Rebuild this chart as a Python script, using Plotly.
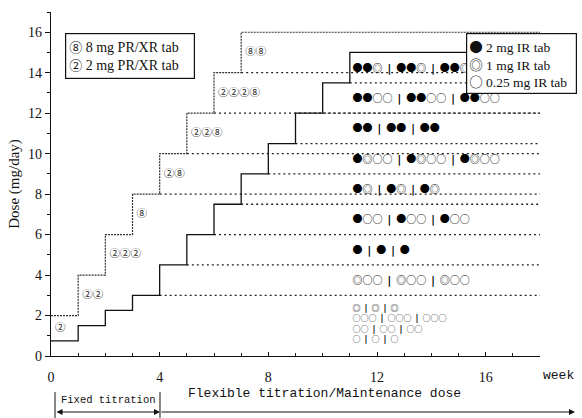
import plotly.graph_objects as go

# ---- data -------------------------------------------------------------
pr_weeks = [0, 1, 2, 3, 4, 5, 6, 7]
pr_xr_dose = [2, 4, 6, 8, 10, 12, 14, 16]                 # mg/day, PR/XR tablets
pr_xr_tabs = ["②", "②②", "②②②", "⑧", "②⑧", "②②⑧", "②②②⑧", "⑧⑧"]

ir_weeks = [0, 1, 2, 3, 4, 5, 6, 7, 8, 9, 10, 11]
ir_dose = [0.75, 1.5, 2.25, 3, 4.5, 6, 7.5, 9, 10.5, 12, 13.5, 15]   # mg/day, IR tablets
ir_tabs = [
    "○ | ○ | ○",
    "○○ | ○○ | ○○",
    "○○○ | ○○○ | ○○○",
    "◎ | ◎ | ◎",
    "◎○○ | ◎○○ | ◎○○",
    "● | ● | ●",
    "●○○ | ●○○ | ●○○",
    "●◎ | ●◎ | ●◎",
    "●◎○○ | ●◎○○ | ●◎○○",
    "●● | ●● | ●●",
    "●●○○ | ●●○○ | ●●○○",
    "●●◎ | ●●◎ | ●●◎",
]

fixed_titration_weeks = 4
end_week = 18
first_maintained = 3          # first step whose dose line carries on to the end

# ---- figure -----------------------------------------------------------
fig = go.Figure()

# dose levels that continue through flexible titration / maintenance
ext_x, ext_y = [], []
for i in range(first_maintained, len(pr_xr_dose) - 1):
    ext_x += [pr_weeks[i] + 1, end_week, None]
    ext_y += [pr_xr_dose[i], pr_xr_dose[i], None]
for i in range(first_maintained, len(ir_dose) - 1):
    ext_x += [ir_weeks[i] + 1, end_week, None]
    ext_y += [ir_dose[i], ir_dose[i], None]
fig.add_trace(go.Scatter(x=ext_x, y=ext_y, mode="lines", hoverinfo="skip",
                         line=dict(color="#222", width=1.3, dash="2px,3px")))

# PR/XR titration steps
fig.add_trace(go.Scatter(x=pr_weeks + [end_week], y=pr_xr_dose + [pr_xr_dose[-1]],
                         mode="lines", line_shape="hv",
                         line=dict(color="#333", width=1.2, dash="2px,1px")))

# IR titration steps
fig.add_trace(go.Scatter(x=ir_weeks + [end_week], y=ir_dose + [ir_dose[-1]],
                         mode="lines", line_shape="hv",
                         line=dict(color="#111", width=1.3)))

cjk = "Noto Sans CJK JP"

# tablet combinations for the PR/XR steps
pr_lbl_y = []
for i, d in enumerate(pr_xr_dose):
    below = max(d - 2, ir_dose[i])
    pr_lbl_y.append((d + below) / 2)
fig.add_trace(go.Scatter(x=[w + 0.15 for w in pr_weeks], y=pr_lbl_y, text=pr_xr_tabs,
                         mode="text", textposition="middle right",
                         textfont=dict(family=cjk, size=10.5, color="#222")))

# tablet combinations (three times daily) for the IR doses:
# higher doses sit inside their own band, the low ones are stacked under 3 mg
sep = "\u2002<span style=\"font-family:'DejaVu Sans';font-weight:bold\">|</span>\u2002"
hi_x, hi_y, hi_t, lo_x, lo_y, lo_t = [], [], [], [], [], []
stack_row = 0
for d, t in zip(ir_dose, ir_tabs):
    t = t.replace(" | ", sep)
    if d >= 4.5:
        hi_x.append(ir_weeks[-1] + 0.1)
        hi_y.append(d - 0.82)
        hi_t.append(t)
    else:
        lo_x.append(ir_weeks[-1] + 0.1)
        lo_y.append(0.78 + 0.52 * stack_row)
        lo_t.append(t)
        stack_row += 1
fig.add_trace(go.Scatter(x=hi_x, y=hi_y, text=hi_t,
                         mode="text", textposition="middle right",
                         textfont=dict(family=cjk, size=10, color="#000")))
fig.add_trace(go.Scatter(x=lo_x, y=lo_y, text=lo_t,
                         mode="text", textposition="middle right",
                         textfont=dict(family=cjk, size=8, color="#000")))

serif = "Liberation Serif, Noto Sans CJK JP"
mono = "Liberation Mono, DejaVu Sans Mono"


def sym(ch, size):
    return f"<span style=\"font-family:'{cjk}';font-size:{size}px\">{ch}</span>"


# legends
fig.add_annotation(xref="paper", yref="paper", x=0.0286, y=0.939,
                   xanchor="left", yanchor="top", align="left", showarrow=False,
                   width=122,
                   text=f"{sym('⑧', 13)} 8 mg PR/XR tab<br>{sym('②', 13)} 2 mg PR/XR tab",
                   font=dict(family=serif, size=14, color="#111"),
                   bordercolor="#111", borderwidth=1.2, borderpad=3, bgcolor="white")
fig.add_annotation(xref="paper", yref="paper", x=0.849, y=0.939,
                   xanchor="left", yanchor="top", align="left", showarrow=False,
                   width=105,
                   text=(f"{sym('●', 13.5)} 2 mg IR tab<br>{sym('◎', 13.5)} 1 mg IR tab"
                         f"<br>{sym('○', 13.5)} 0.25 mg IR tab"),
                   font=dict(family=serif, size=13.5, color="#111"),
                   bordercolor="#111", borderwidth=1.2, borderpad=2, bgcolor="white")

# axis end label and titration phases
fig.add_annotation(xref="paper", yref="paper", x=1.002, y=-0.058,
                   xanchor="left", yanchor="middle", showarrow=False,
                   text="week", font=dict(family=mono, size=13, color="#111"))
fig.add_annotation(xref="paper", yref="paper", x=0.56, y=-0.11,
                   xanchor="center", yanchor="middle", showarrow=False,
                   text="Flexible titration/Maintenance dose",
                   font=dict(family=mono, size=13, color="#111"))
fig.add_annotation(xref="paper", yref="paper", x=0.1166, y=-0.128,
                   xanchor="center", yanchor="middle", showarrow=False,
                   text="Fixed titration", font=dict(family=mono, size=10.5, color="#111"))
for xp in (0.0082, 0.2229):
    fig.add_shape(type="line", xref="paper", yref="paper", x0=xp, x1=xp,
                  y0=-0.105, y1=-0.18, line=dict(color="#111", width=1))
fig.add_annotation(xref="paper", yref="paper", x=0.2229, y=-0.1628,
                   axref="pixel", ayref="pixel", ax=-105, ay=0, text="",
                   showarrow=True, arrowhead=2, arrowside="end+start",
                   arrowsize=1.2, arrowwidth=1, arrowcolor="#111")
fig.add_annotation(xref="paper", yref="paper", x=1.0716, y=-0.1628,
                   axref="pixel", ayref="pixel", ax=-415, ay=0, text="",
                   showarrow=True, arrowhead=2, arrowsize=1.2, arrowwidth=1,
                   arrowcolor="#111")

fig.update_layout(
    width=582, height=418,
    margin=dict(l=51, r=42, t=12, b=62),
    paper_bgcolor="white", plot_bgcolor="white",
    showlegend=False,
    xaxis=dict(range=[0, end_week], tick0=0, dtick=fixed_titration_weeks,
               showgrid=False, zeroline=False, showline=True, linecolor="#111",
               linewidth=1.2, ticks="inside", ticklen=4, tickcolor="#111",
               ticklabelstandoff=8,
               minor=dict(dtick=1, ticks="inside", ticklen=3, tickcolor="#111"),
               tickfont=dict(family=serif, size=14, color="#111")),
    yaxis=dict(range=[0, 17], tick0=0, dtick=2,
               showgrid=False, zeroline=False, showline=True, linecolor="#111",
               linewidth=1.2, ticks="outside", ticklen=5, tickcolor="#111",
               minor=dict(dtick=1, ticks="outside", ticklen=3, tickcolor="#111"),
               tickfont=dict(family=serif, size=14, color="#111"),
               title=dict(text="Dose (mg/day)", standoff=4,
                          font=dict(family=serif, size=15, color="#111"))),
)

fig.write_html("out.html")
